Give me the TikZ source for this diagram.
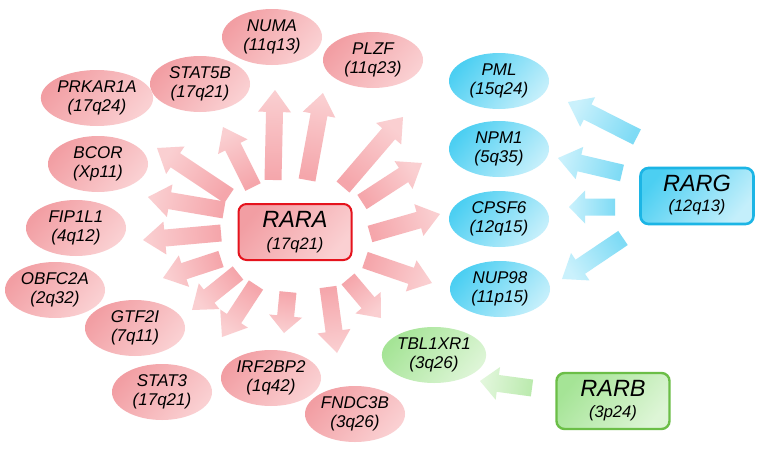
\documentclass[tikz,border=0pt]{standalone}
\usepackage{fontspec}
\setmainfont{Liberation Sans}
\usetikzlibrary{calc,shapes.geometric}
\definecolor{redD}{HTML}{F29EA3}
\definecolor{redL}{HTML}{FAD0D2}
\definecolor{redAD}{HTML}{F5A6AB}
\definecolor{redAL}{HTML}{FACFD1}
\definecolor{redB}{HTML}{E5131D}
\definecolor{bluD}{HTML}{4CCFF2}
\definecolor{bluL}{HTML}{C4EFFB}
\definecolor{bluAD}{HTML}{7FDBF5}
\definecolor{bluAL}{HTML}{CAF1FC}
\definecolor{bluB}{HTML}{1CB5E5}
\definecolor{grnD}{HTML}{A5E496}
\definecolor{grnL}{HTML}{DDF5D6}
\definecolor{grnAD}{HTML}{BBEAAE}
\definecolor{grnAL}{HTML}{E3F7DD}
\definecolor{grnB}{HTML}{6BBE47}
\tikzset{
  x=1pt, y=-1pt,
  ell/.style={ellipse, minimum width=100pt, minimum height=56pt, inner sep=0pt,
    align=center, font=\fontsize{17}{19.5}\selectfont\itshape},
  redell/.style={ell, top color=redD, bottom color=redL, shading angle=50},
  bluell/.style={ell, top color=bluD, bottom color=bluL, shading angle=50},
  grnell/.style={ell, top color=grnD, bottom color=grnL, shading angle=50},
  genebox/.style={rectangle, rounded corners=8pt, minimum width=113pt, minimum height=56pt,
    inner sep=0pt},
  rarabox/.style={genebox, draw=redB, line width=2pt, top color=redD, bottom color=redL, shading angle=50},
  rargbox/.style={genebox, draw=bluB, line width=2.6pt, top color=bluD, bottom color=bluL, shading angle=50},
  rarbbox/.style={genebox, draw=grnB, line width=2.4pt, top color=grnD, bottom color=grnL, shading angle=50},
  bigname/.style={font=\fontsize{23.5}{24}\selectfont\itshape, inner sep=0pt},
  subname/.style={font=\fontsize{16.5}{17}\selectfont\itshape, inner sep=0pt},
}
% block arrow: x1 y1 (tail) x2 y2 (tip) headlength darkcolor lightcolor
\newcommand\blockarr[7]{%
  \pgfmathsetmacro\barang{atan2(-((#4)-(#2)),(#3)-(#1))-90}%
  \coordinate (bt) at (#1,#2);
  \coordinate (bp) at (#3,#4);
  \coordinate (bh) at ($(bp)!#5pt!(bt)$);
  \shade[top color=#7, bottom color=#6, shading angle=\barang]
    ($(bt)!8.5pt!90:(bp)$) -- ($(bh)!8.5pt!90:(bp)$) -- ($(bh)!16.5pt!90:(bp)$) -- (bp)
    -- ($(bh)!16.5pt!-90:(bp)$) -- ($(bh)!8.5pt!-90:(bp)$) -- ($(bt)!8.5pt!-90:(bp)$) -- cycle;
}
\begin{document}
\begin{tikzpicture}
\useasboundingbox (0,0) rectangle (764,456);
\fill[white] (0,0) rectangle (764,456);

% red arrows from RARA
\blockarr{273}{180}{275}{90}{22}{redAD}{redAL}
\blockarr{307}{180}{323}{93}{22}{redAD}{redAL}
\blockarr{343}{187}{403}{117}{22}{redAD}{redAL}
\blockarr{362}{202}{422}{163}{22}{redAD}{redAL}
\blockarr{370}{234}{440}{214}{22}{redAD}{redAL}
\blockarr{365}{260}{432}{283}{22}{redAD}{redAL}
\blockarr{348}{279}{381}{318}{20}{redAD}{redAL}
\blockarr{328}{287}{337}{353}{22}{redAD}{redAL}
\blockarr{288}{292}{284}{333}{17}{redAD}{redAL}
\blockarr{256}{285}{222}{337}{22}{redAD}{redAL}
\blockarr{238}{273}{192}{310}{22}{redAD}{redAL}
\blockarr{221}{259}{163}{278}{22}{redAD}{redAL}
\blockarr{221}{233}{143}{240}{22}{redAD}{redAL}
\blockarr{224}{210}{148}{197}{22}{redAD}{redAL}
\blockarr{229}{196}{157}{148}{22}{redAD}{redAL}
\blockarr{253}{187}{223}{127}{22}{redAD}{redAL}

% blue arrows from RARG
\blockarr{637}{137}{568}{102}{22}{bluAD}{bluAL}
\blockarr{622}{173}{558}{158}{22}{bluAD}{bluAL}
\blockarr{615}{207}{569}{207}{16}{bluAD}{bluAL}
\blockarr{623}{238}{562}{279}{22}{bluAD}{bluAL}

% green arrow from RARB
\blockarr{532}{388}{480}{381}{18}{grnAD}{grnAL}

% red ellipses
\node[redell] (numa) at (272,37) {NUMA\\(11q13)};
\node[redell] (plzf) at (373,60) {PLZF\\(11q23)};
\node[redell] (stat5b) at (200,84) {STAT5B\\(17q21)};
\node[redell] (prkar1a) at (97,98) {PRKAR1A\\(17q24)};
\node[redell] (bcor) at (98,164) {BCOR\\(Xp11)};
\node[redell] (fip1l1) at (76,228) {FIP1L1\\(4q12)};
\node[redell] (obfc2a) at (55,290) {OBFC2A\\(2q32)};
\node[redell] (gtf2i) at (135,328) {GTF2I\\(7q11)};
\node[redell] (stat3) at (162,392) {STAT3\\(17q21)};
\node[redell] (irf2bp2) at (271,378) {IRF2BP2\\(1q42)};
\node[redell] (fndc3b) at (355,414) {FNDC3B\\(3q26)};

% blue ellipses
\node[bluell] (pml) at (499,81) {PML\\(15q24)};
\node[bluell] (npm1) at (499,149) {NPM1\\(5q35)};
\node[bluell] (cpsf6) at (499,219) {CPSF6\\(12q15)};
\node[bluell] (nup98) at (500,289) {NUP98\\(11p15)};

% green ellipse
\node[grnell] (tbl1xr1) at (434,355) {TBL1XR1\\(3q26)};

% boxes
\node[rarabox] (rara) at (295,232) {};
\node[bigname] (raraname) at ($(rara.center)+(0,-12.5)$) {RARA};
\node[subname] (raraloc) at ($(rara.center)+(0,13)$) {(17q21)};

\node[rargbox] (rarg) at (697,196) {};
\node[bigname] (rargname) at ($(rarg.center)+(0,-12.5)$) {RARG};
\node[subname] (rargloc) at ($(rarg.center)+(0,11)$) {(12q13)};

\node[rarbbox] (rarb) at (613,401) {};
\node[bigname] (rarbname) at ($(rarb.center)+(0,-12.5)$) {RARB};
\node[subname] (rarbloc) at ($(rarb.center)+(0,12)$) {(3p24)};
\end{tikzpicture}
\end{document}
